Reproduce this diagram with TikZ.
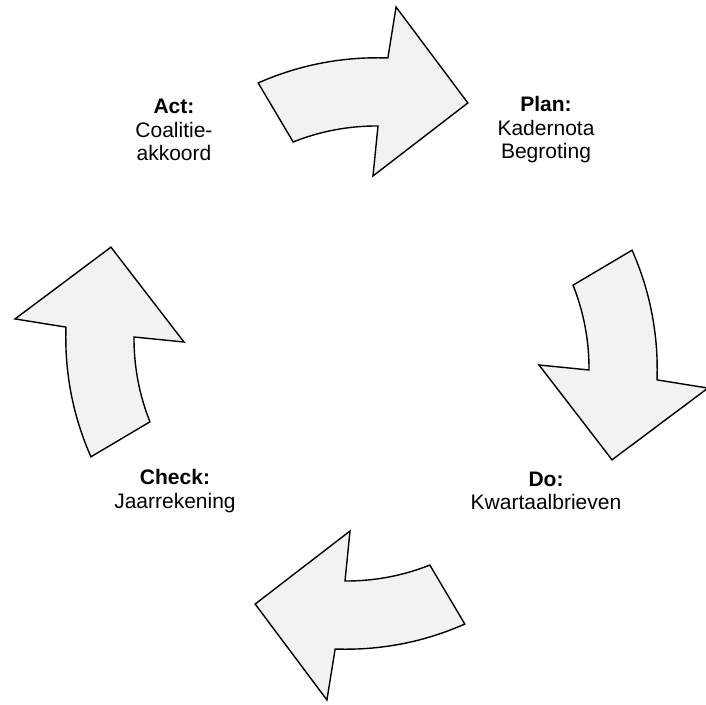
\documentclass[tikz,border=0pt]{standalone}
\usepackage{fontspec}
\setmainfont{Liberation Sans}
\usepackage{xcolor}
\usepackage{tikz}
\definecolor{arrowfill}{HTML}{F2F2F2}
\definecolor{ink}{HTML}{000000}
\tikzset{
  cyclearrow/.style={draw=ink, fill=arrowfill, line width=1.4pt, line join=miter},
  phase/.style={text=ink, align=center, inner sep=0pt, font=\fontsize{21}{23.5}\selectfont},
}
\begin{document}
\begin{tikzpicture}[x=1pt,y=1pt]
  \useasboundingbox (-361.5,-350.5) rectangle (344.5,353.5);
  \coordinate (O) at (0,0);
  % one curved arrow per quarter of the cycle
  \foreach \rot in {0,-90,-180,-270}{
    \draw[cyclearrow, rotate=\rot] (110.9:289.6)
      -- plot[domain=110.9:84.9, samples=30] (\x:{289.6+7.1*(110.9-\x)/26})
      -- (84.3:348.2) -- (67.0:272.2) -- (86.3:177.9) -- (85.85:228.1)
      -- plot[domain=85.85:107.9, samples=30] (\x:{228.1-5.8*(\x-85.85)/22.05})
      -- cycle;
  }
  \node[phase] (act) at (-187.5,223.5) {\textbf{Act:}\\Coalitie-\\akkoord};
  \node[phase] (plan) at (184.5,223.5) {\textbf{Plan:}\\Kadernota\\Begroting};
  \node[phase] (check) at (-186.5,-137.5) {\textbf{Check:}\\Jaarrekening};
  \node[phase] (do) at (184.5,-137.5) {\textbf{Do:}\\Kwartaalbrieven};
\end{tikzpicture}
\end{document}
